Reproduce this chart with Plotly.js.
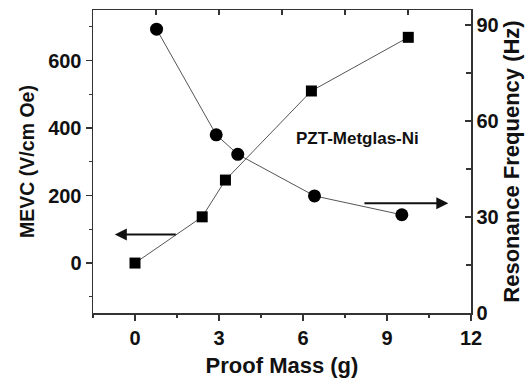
<!DOCTYPE html>
<html>
<head>
<meta charset="utf-8">
<script src="https://cdn.plot.ly/plotly-3.0.1.min.js"></script>
<style>html,body{margin:0;padding:0;background:#fff;}#chart{width:531px;height:378px;}</style>
</head>
<body>
<div id="chart"></div>
<script>
// Proof mass (g) and MEVC (V/cm Oe) — squares, left axis
const massMEVC = [0, 2.4, 3.23, 6.3, 9.76];
const mevc = [0, 137, 246, 510, 669];
// Proof mass (g) and resonance frequency (Hz) — circles, right axis
const massFreq = [0.77, 2.9, 3.67, 6.41, 9.53];
const freq = [88.7, 55.7, 49.6, 36.6, 30.7];

const xTitle = 'Proof Mass (g)';
const yTitle = 'MEVC (V/cm Oe)';
const y2Title = 'Resonance Frequency (Hz)';
const label = 'PZT-Metglas-Ni';

const FONT = 'Liberation Sans, Arial, sans-serif';
const INK = '#111';

const traces = [
  {
    x: massMEVC, y: mevc, type: 'scatter', mode: 'lines+markers',
    xaxis: 'x', yaxis: 'y',
    line: {color: '#555', width: 1},
    marker: {symbol: 'square', size: 11, color: '#000'},
    hoverinfo: 'none', showlegend: false
  },
  {
    x: massFreq, y: freq, type: 'scatter', mode: 'lines+markers',
    xaxis: 'x2', yaxis: 'y2',
    line: {color: '#555', width: 1},
    marker: {symbol: 'circle', size: 13, color: '#000'},
    hoverinfo: 'none', showlegend: false
  }
];

const axisFont = {family: FONT, size: 20, color: INK, weight: 'bold'};

const layout = {
  width: 531, height: 378,
  margin: {l: 93, r: 60, t: 10, b: 65},
  paper_bgcolor: '#fff', plot_bgcolor: '#fff',
  showlegend: false,
  xaxis: {
    range: [-1.5, 12], dtick: 3, tick0: 0,
    showgrid: false, zeroline: false,
    showline: true, linecolor: '#333', linewidth: 1.5,
    ticks: 'outside', ticklen: 6, tickwidth: 1.5, tickcolor: '#333',
    minor: {dtick: 1.5, tick0: 0, ticks: 'outside', ticklen: 3, tickwidth: 1.2, tickcolor: '#333'},
    tickfont: axisFont,
    title: {text: xTitle, font: {family: FONT, size: 22, color: INK, weight: 'bold'}, standoff: 12}
  },
  xaxis2: {
    range: [-1.5, 12], overlaying: 'x', side: 'top', anchor: 'y2',
    tick0: 0.75, dtick: 2.25,
    showgrid: false, zeroline: false, showticklabels: false,
    showline: true, linecolor: '#333', linewidth: 1.5,
    ticks: 'inside', ticklen: 5, tickwidth: 1.5, tickcolor: '#333'
  },
  yaxis: {
    range: [-148, 750], dtick: 200, tick0: 0,
    showgrid: false, zeroline: false,
    showline: true, linecolor: '#333', linewidth: 1.5,
    ticks: 'outside', ticklen: 6, tickwidth: 1.5, tickcolor: '#333',
    minor: {dtick: 100, tick0: 0, ticks: 'outside', ticklen: 3, tickwidth: 1.2, tickcolor: '#333'},
    tickfont: axisFont,
    title: {text: yTitle, font: {family: FONT, size: 19.5, color: INK, weight: 'bold'}, standoff: 8}
  },
  yaxis2: {
    range: [0, 94.7], dtick: 30, tick0: 0,
    overlaying: 'y', side: 'right', anchor: 'x',
    showgrid: false, zeroline: false,
    showline: true, linecolor: '#333', linewidth: 1.5,
    ticks: 'inside', ticklen: 6, tickwidth: 1.5, tickcolor: '#333',
    minor: {dtick: 15, tick0: 0, ticks: 'inside', ticklen: 5, tickwidth: 1.2, tickcolor: '#333'},
    tickfont: axisFont,
    title: {text: y2Title, font: {family: FONT, size: 22, color: INK, weight: 'bold'}, standoff: 4}
  },
  annotations: [
    {
      x: 7.95, y: 370, xref: 'x', yref: 'y',
      text: label, showarrow: false,
      font: {family: FONT, size: 17, color: INK, weight: 'bold'}
    },
    {
      x: -0.72, y: 85, xref: 'x', yref: 'y',
      ax: 1.51, ay: 85, axref: 'x', ayref: 'y',
      text: '', showarrow: true, arrowhead: 2, arrowsize: 1.2, arrowwidth: 2, arrowcolor: '#111'
    },
    {
      x: 11.19, y: 34.3, xref: 'x2', yref: 'y2',
      ax: 8.14, ay: 34.3, axref: 'x2', ayref: 'y2',
      text: '', showarrow: true, arrowhead: 2, arrowsize: 1.2, arrowwidth: 2, arrowcolor: '#111'
    }
  ]
};

Plotly.newPlot('chart', traces, layout, {staticPlot: true, displayModeBar: false});
</script>
</body>
</html>
